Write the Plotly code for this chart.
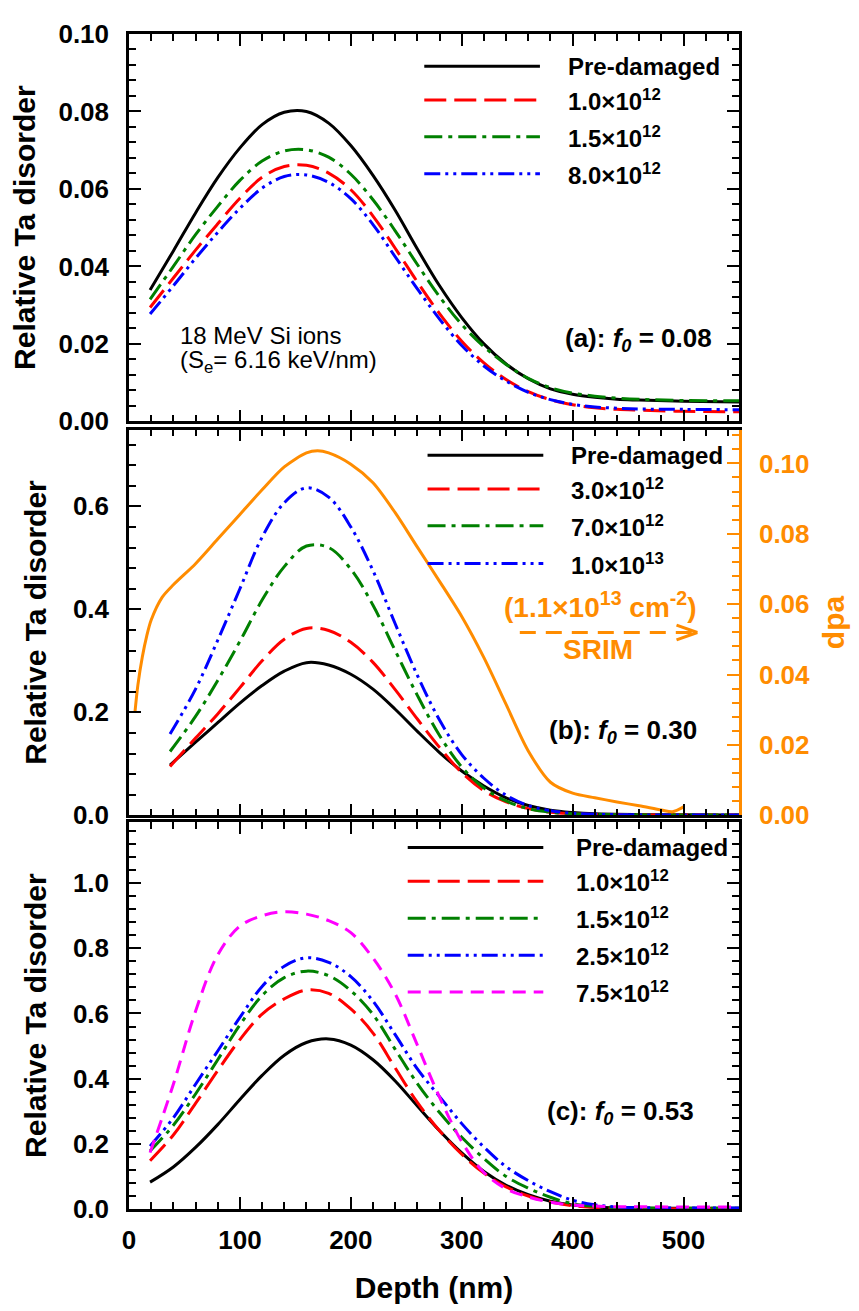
import plotly.graph_objects as go

#%% data (depth in nm)
# (a) f0 = 0.08
depth_a = [19, 40, 60, 80, 100, 120, 140, 160, 180, 200, 220, 240, 260, 280, 300, 320, 340, 360, 380,
           400, 420, 440, 460, 500, 550]
a_pre = [0.0339, 0.0440, 0.0538, 0.0629, 0.0706, 0.0766, 0.0798, 0.0800, 0.0770, 0.0712, 0.0635, 0.0545,
         0.0445, 0.0350, 0.0268, 0.0200, 0.0148, 0.0110, 0.0084, 0.0070, 0.0062, 0.0057, 0.0055, 0.0052,
         0.0050]
a_1p0e12 = [0.0294, 0.0370, 0.0442, 0.0510, 0.0576, 0.0630, 0.0658, 0.0661, 0.0641, 0.0598, 0.0530, 0.0447,
            0.0360, 0.0278, 0.0207, 0.0151, 0.0108, 0.0077, 0.0056, 0.0043, 0.0035, 0.0031, 0.0029, 0.0026,
            0.0025]
a_1p5e12 = [0.0315, 0.0400, 0.0482, 0.0555, 0.0622, 0.0672, 0.0698, 0.0701, 0.0682, 0.0638, 0.0572, 0.0492,
            0.0405, 0.0322, 0.0250, 0.0193, 0.0147, 0.0111, 0.0087, 0.0073, 0.0065, 0.0060, 0.0057, 0.0054,
            0.0053]
a_8p0e12 = [0.0277, 0.0350, 0.0421, 0.0488, 0.0550, 0.0602, 0.0632, 0.0636, 0.0617, 0.0575, 0.0508, 0.0425,
            0.0342, 0.0264, 0.0196, 0.0143, 0.0104, 0.0075, 0.0056, 0.0044, 0.0037, 0.0034, 0.0032, 0.0031,
            0.0030]

# (b) f0 = 0.30
depth_b = [37, 60, 80, 100, 120, 140, 160, 180, 200, 220, 240, 260, 280, 300, 320, 340, 360, 380, 400,
           420, 460, 500, 550]
b_pre = [0.0977, 0.142, 0.180, 0.218, 0.252, 0.280, 0.2965, 0.292, 0.274, 0.245, 0.206, 0.163, 0.122, 0.086,
         0.057, 0.034, 0.019, 0.010, 0.0055, 0.003, 0.0015, 0.001, 0.0005]
b_3p0e12 = [0.095, 0.150, 0.197, 0.248, 0.300, 0.342, 0.363, 0.359, 0.336, 0.297, 0.244, 0.187, 0.132, 0.083,
            0.048, 0.026, 0.013, 0.006, 0.003, 0.0015, 0.001, 0.0005, 0.0005]
b_7p0e12 = [0.124, 0.192, 0.262, 0.338, 0.418, 0.483, 0.523, 0.520, 0.478, 0.408, 0.320, 0.233, 0.155, 0.094,
            0.053, 0.028, 0.013, 0.006, 0.003, 0.0015, 0.001, 0.0005, 0.0005]
b_1p0e13 = [0.158, 0.245, 0.340, 0.440, 0.540, 0.607, 0.636, 0.618, 0.560, 0.475, 0.372, 0.272, 0.185, 0.118,
            0.072, 0.039, 0.019, 0.009, 0.004, 0.002, 0.001, 0.0005, 0.0005]

# SRIM dpa profile for 1.1x10^13 cm^-2 (right axis of b)
depth_srim = [5.4, 8, 12, 16, 20, 30, 40, 60, 80, 100, 120, 140, 160, 170, 180, 200, 220, 240, 260, 280,
              300, 320, 340, 360, 380, 400, 420, 440, 460, 480, 490, 500]
dpa_srim = [0.0294, 0.037, 0.045, 0.051, 0.0555, 0.062, 0.0655, 0.0715, 0.0785, 0.0855, 0.0925, 0.0990,
            0.1030, 0.1036, 0.1030, 0.0998, 0.0945, 0.0860, 0.0762, 0.0665, 0.0565, 0.0448, 0.0315, 0.0183,
            0.0094, 0.0063, 0.0050, 0.0038, 0.0027, 0.0015, 0.0010, 0.0024]

# (c) f0 = 0.53
depth_c = [19, 40, 60, 80, 100, 120, 140, 160, 180, 200, 220, 240, 260, 280, 300, 320, 340, 360, 380,
           400, 420, 440, 460, 500, 550]
c_pre = [0.0824, 0.129, 0.189, 0.259, 0.336, 0.410, 0.472, 0.511, 0.522, 0.503, 0.458, 0.393, 0.316, 0.240,
         0.172, 0.115, 0.073, 0.044, 0.024, 0.012, 0.006, 0.003, 0.002, 0.002, 0.002]
c_1p0e12 = [0.148, 0.227, 0.324, 0.425, 0.520, 0.598, 0.645, 0.672, 0.662, 0.614, 0.540, 0.433, 0.327, 0.240,
            0.168, 0.110, 0.068, 0.040, 0.021, 0.010, 0.005, 0.002, 0.001, 0.001, 0.001]
c_1p5e12 = [0.178, 0.257, 0.353, 0.458, 0.565, 0.655, 0.710, 0.730, 0.716, 0.670, 0.597, 0.490, 0.385, 0.296,
            0.220, 0.155, 0.100, 0.064, 0.036, 0.016, 0.008, 0.004, 0.003, 0.002, 0.002]
c_2p5e12 = [0.193, 0.280, 0.383, 0.485, 0.588, 0.683, 0.745, 0.771, 0.757, 0.713, 0.638, 0.535, 0.430, 0.345,
            0.262, 0.190, 0.130, 0.087, 0.053, 0.027, 0.013, 0.006, 0.004, 0.003, 0.003]
c_7p5e12 = [0.173, 0.383, 0.607, 0.780, 0.868, 0.900, 0.9125, 0.905, 0.885, 0.848, 0.770, 0.660, 0.503, 0.343,
            0.207, 0.112, 0.062, 0.037, 0.021, 0.012, 0.009, 0.007, 0.007, 0.006, 0.006]

labels_a = ['Pre-damaged', '1.0×10<sup>12</sup>', '1.5×10<sup>12</sup>', '8.0×10<sup>12</sup>']
labels_b = ['Pre-damaged', '3.0×10<sup>12</sup>', '7.0×10<sup>12</sup>', '1.0×10<sup>13</sup>']
labels_c = ['Pre-damaged', '1.0×10<sup>12</sup>', '1.5×10<sup>12</sup>', '2.5×10<sup>12</sup>',
            '7.5×10<sup>12</sup>']

#%% styles
FONT = 'Arial, Liberation Sans, sans-serif'
ORANGE = '#FF8C00'
STYLES = [('black', 'solid'),
          ('#FF0000', '22px,8px'),
          ('#008000', '18px,6px,4px,6px'),
          ('#0000FF', '16px,5px,3px,5px,3px,5px'),
          ('#FF00FF', '13px,8px')]

fig = go.Figure()

def add_set(xs, ys_list, xaxis, yaxis):
    for ys, (col, dash) in zip(ys_list, STYLES):
        fig.add_trace(go.Scatter(x=xs, y=ys, mode='lines', xaxis=xaxis, yaxis=yaxis,
                                 line=dict(color=col, dash=dash, width=3, shape='spline', smoothing=1.0),
                                 showlegend=False))

add_set(depth_a, [a_pre, a_1p0e12, a_1p5e12, a_8p0e12], 'x3', 'y4')
add_set(depth_b, [b_pre, b_3p0e12, b_7p0e12, b_1p0e13], 'x2', 'y2')
fig.add_trace(go.Scatter(x=depth_srim, y=dpa_srim, mode='lines', xaxis='x2', yaxis='y3',
                         line=dict(color=ORANGE, width=3, shape='spline', smoothing=0.8), showlegend=False))
add_set(depth_c, [c_pre, c_1p0e12, c_1p5e12, c_2p5e12, c_7p5e12], 'x', 'y')

#%% axes
# the page body has an 8px margin, so the figure is shifted by that amount
BODY = 8
PL, PR, PT, PB = 124, 739, 19, 1212          # plot area in page pixels
W, H = 859 - BODY, 1311 - BODY
ML, MT = PL - BODY, PT - BODY
MR, MB = W - (PR - BODY), H - (PB - BODY)
PW, PH = PR - PL, PB - PT

def xp(px):
    return (px - PL) / PW

def yp(py):
    return (PB - py) / PH

tickfont = dict(family=FONT, size=26, color='black', weight='bold')
titlefont = dict(family=FONT, size=30, color='black', weight='bold')

def xax(anchor, labels):
    return dict(anchor=anchor, domain=[0, 1], range=[0, 550], tick0=0, dtick=100,
                ticks='inside', ticklen=12, tickwidth=2, tickcolor='black',
                minor=dict(dtick=20, ticks='inside', ticklen=7, tickwidth=2, tickcolor='black'),
                showline=True, linewidth=2.5, linecolor='black', mirror='ticks',
                showgrid=False, zeroline=False, showticklabels=labels,
                tickfont=tickfont, ticklabelstandoff=6, ticklabeloverflow='allow')

def yax(anchor, dom, rng, dtick, minor, fmt, mirror='ticks'):
    return dict(anchor=anchor, domain=dom, range=rng, tick0=0, dtick=dtick, tickformat=fmt,
                ticks='inside', ticklen=12, tickwidth=2, tickcolor='black',
                minor=dict(dtick=minor, ticks='inside', ticklen=7, tickwidth=2, tickcolor='black'),
                showline=True, linewidth=2.5, linecolor='black', mirror=mirror,
                showgrid=False, zeroline=False, tickfont=tickfont, ticklabelstandoff=12,
                ticklabeloverflow='allow',
                title=dict(text='Relative Ta disorder', font=titlefont, standoff=18))

dom_a = [yp(412.3), 1.0]
dom_b = [yp(812.3), yp(420.7)]
dom_c = [0.0, yp(819.3)]

fig.update_layout(
    width=W, height=H,
    margin=dict(l=ML, r=MR, t=MT, b=MB),
    plot_bgcolor='white', paper_bgcolor='white',
    font=dict(family=FONT, color='black'),
    showlegend=False,
    xaxis=dict(xax('y', True), title=dict(text='Depth (nm)', font=titlefont, standoff=24)),
    xaxis2=xax('y2', False),
    xaxis3=xax('y4', False),
    yaxis=yax('x', dom_c, [0, 1.187], 0.2, 0.04, '.1f'),
    yaxis2=yax('x2', dom_b, [0, 0.749], 0.2, 0.04, '.1f', mirror=False),
    yaxis3=dict(anchor='x2', overlaying='y2', side='right', range=[0, 0.1096], tick0=0, dtick=0.02,
                tickformat='.2f', ticks='inside', ticklen=12, tickwidth=2, tickcolor=ORANGE,
                minor=dict(dtick=0.004, ticks='inside', ticklen=7, tickwidth=2, tickcolor=ORANGE),
                showline=True, linewidth=2.5, linecolor=ORANGE, showgrid=False, zeroline=False,
                tickfont=dict(family=FONT, size=26, color=ORANGE, weight='bold'), ticklabelstandoff=12,
                ticklabeloverflow='allow',
                title=dict(text='dpa', font=dict(family=FONT, size=30, color=ORANGE, weight='bold'),
                           standoff=14)),
    yaxis4=yax('x3', dom_a, [0, 0.10], 0.02, 0.004, '.2f'),
)

#%% hand-made legends (long key lines like the original)
shapes = []
annots = []

def legend(labels, line_x0, line_x1, text_x, rows):
    for lab, row, (col, dash) in zip(labels, rows, STYLES):
        shapes.append(dict(type='line', xref='paper', yref='paper', x0=xp(line_x0), x1=xp(line_x1),
                           y0=yp(row), y1=yp(row), line=dict(color=col, width=3, dash=dash)))
        annots.append(dict(xref='paper', yref='paper', x=xp(text_x), y=yp(row), xanchor='left',
                           yanchor='middle', showarrow=False, text='<b>%s</b>' % lab,
                           font=dict(family=FONT, size=24, color='black')))

legend(labels_a, 421.7, 538.3, 565, [51.7, 86, 123.3, 161])
legend(labels_b, 425, 541.7, 568, [446.7, 481, 518.3, 556.7])
legend(labels_c, 405, 541.7, 573, [845, 879.3, 916.7, 954.3, 991.7])

def note(text, x, y, anchor='right', size=26, color='black'):
    annots.append(dict(xref='paper', yref='paper', x=xp(x), y=yp(y), xanchor=anchor, yanchor='middle',
                       showarrow=False, text=text, font=dict(family=FONT, size=size, color=color)))

note('<b>(a): <i>f<sub>0</sub></i> = 0.08</b>', 714, 329)
note('<b>(b): <i>f<sub>0</sub></i> = 0.30</b>', 699, 727)
note('<b>(c): <i>f<sub>0</sub></i> = 0.53</b>', 696, 1114)
note('18 MeV Si ions', 173, 325, anchor='left', size=24)
note('(S<sub>e</sub>= 6.16 keV/nm)', 173, 352, anchor='left', size=24)
note('<b>(1.1×10<sup>13</sup> cm<sup>-2</sup>)</b>', 599, 599, anchor='center', size=28, color=ORANGE)
note('<b>SRIM</b>', 597, 644, anchor='center', size=28, color=ORANGE)

# dashed SRIM arrow pointing to the dpa axis
shapes.append(dict(type='line', xref='paper', yref='paper', x0=xp(518), x1=xp(694), y0=yp(626.7),
                   y1=yp(626.7), line=dict(color=ORANGE, width=3, dash='16px,10px')))
for dy in (-7.5, 7.5):
    shapes.append(dict(type='line', xref='paper', yref='paper', x0=xp(676), x1=xp(697), y0=yp(626.7 + dy),
                       y1=yp(626.7), line=dict(color=ORANGE, width=3)))

fig.update_layout(shapes=shapes, annotations=annots)

fig.write_html("out.html")
